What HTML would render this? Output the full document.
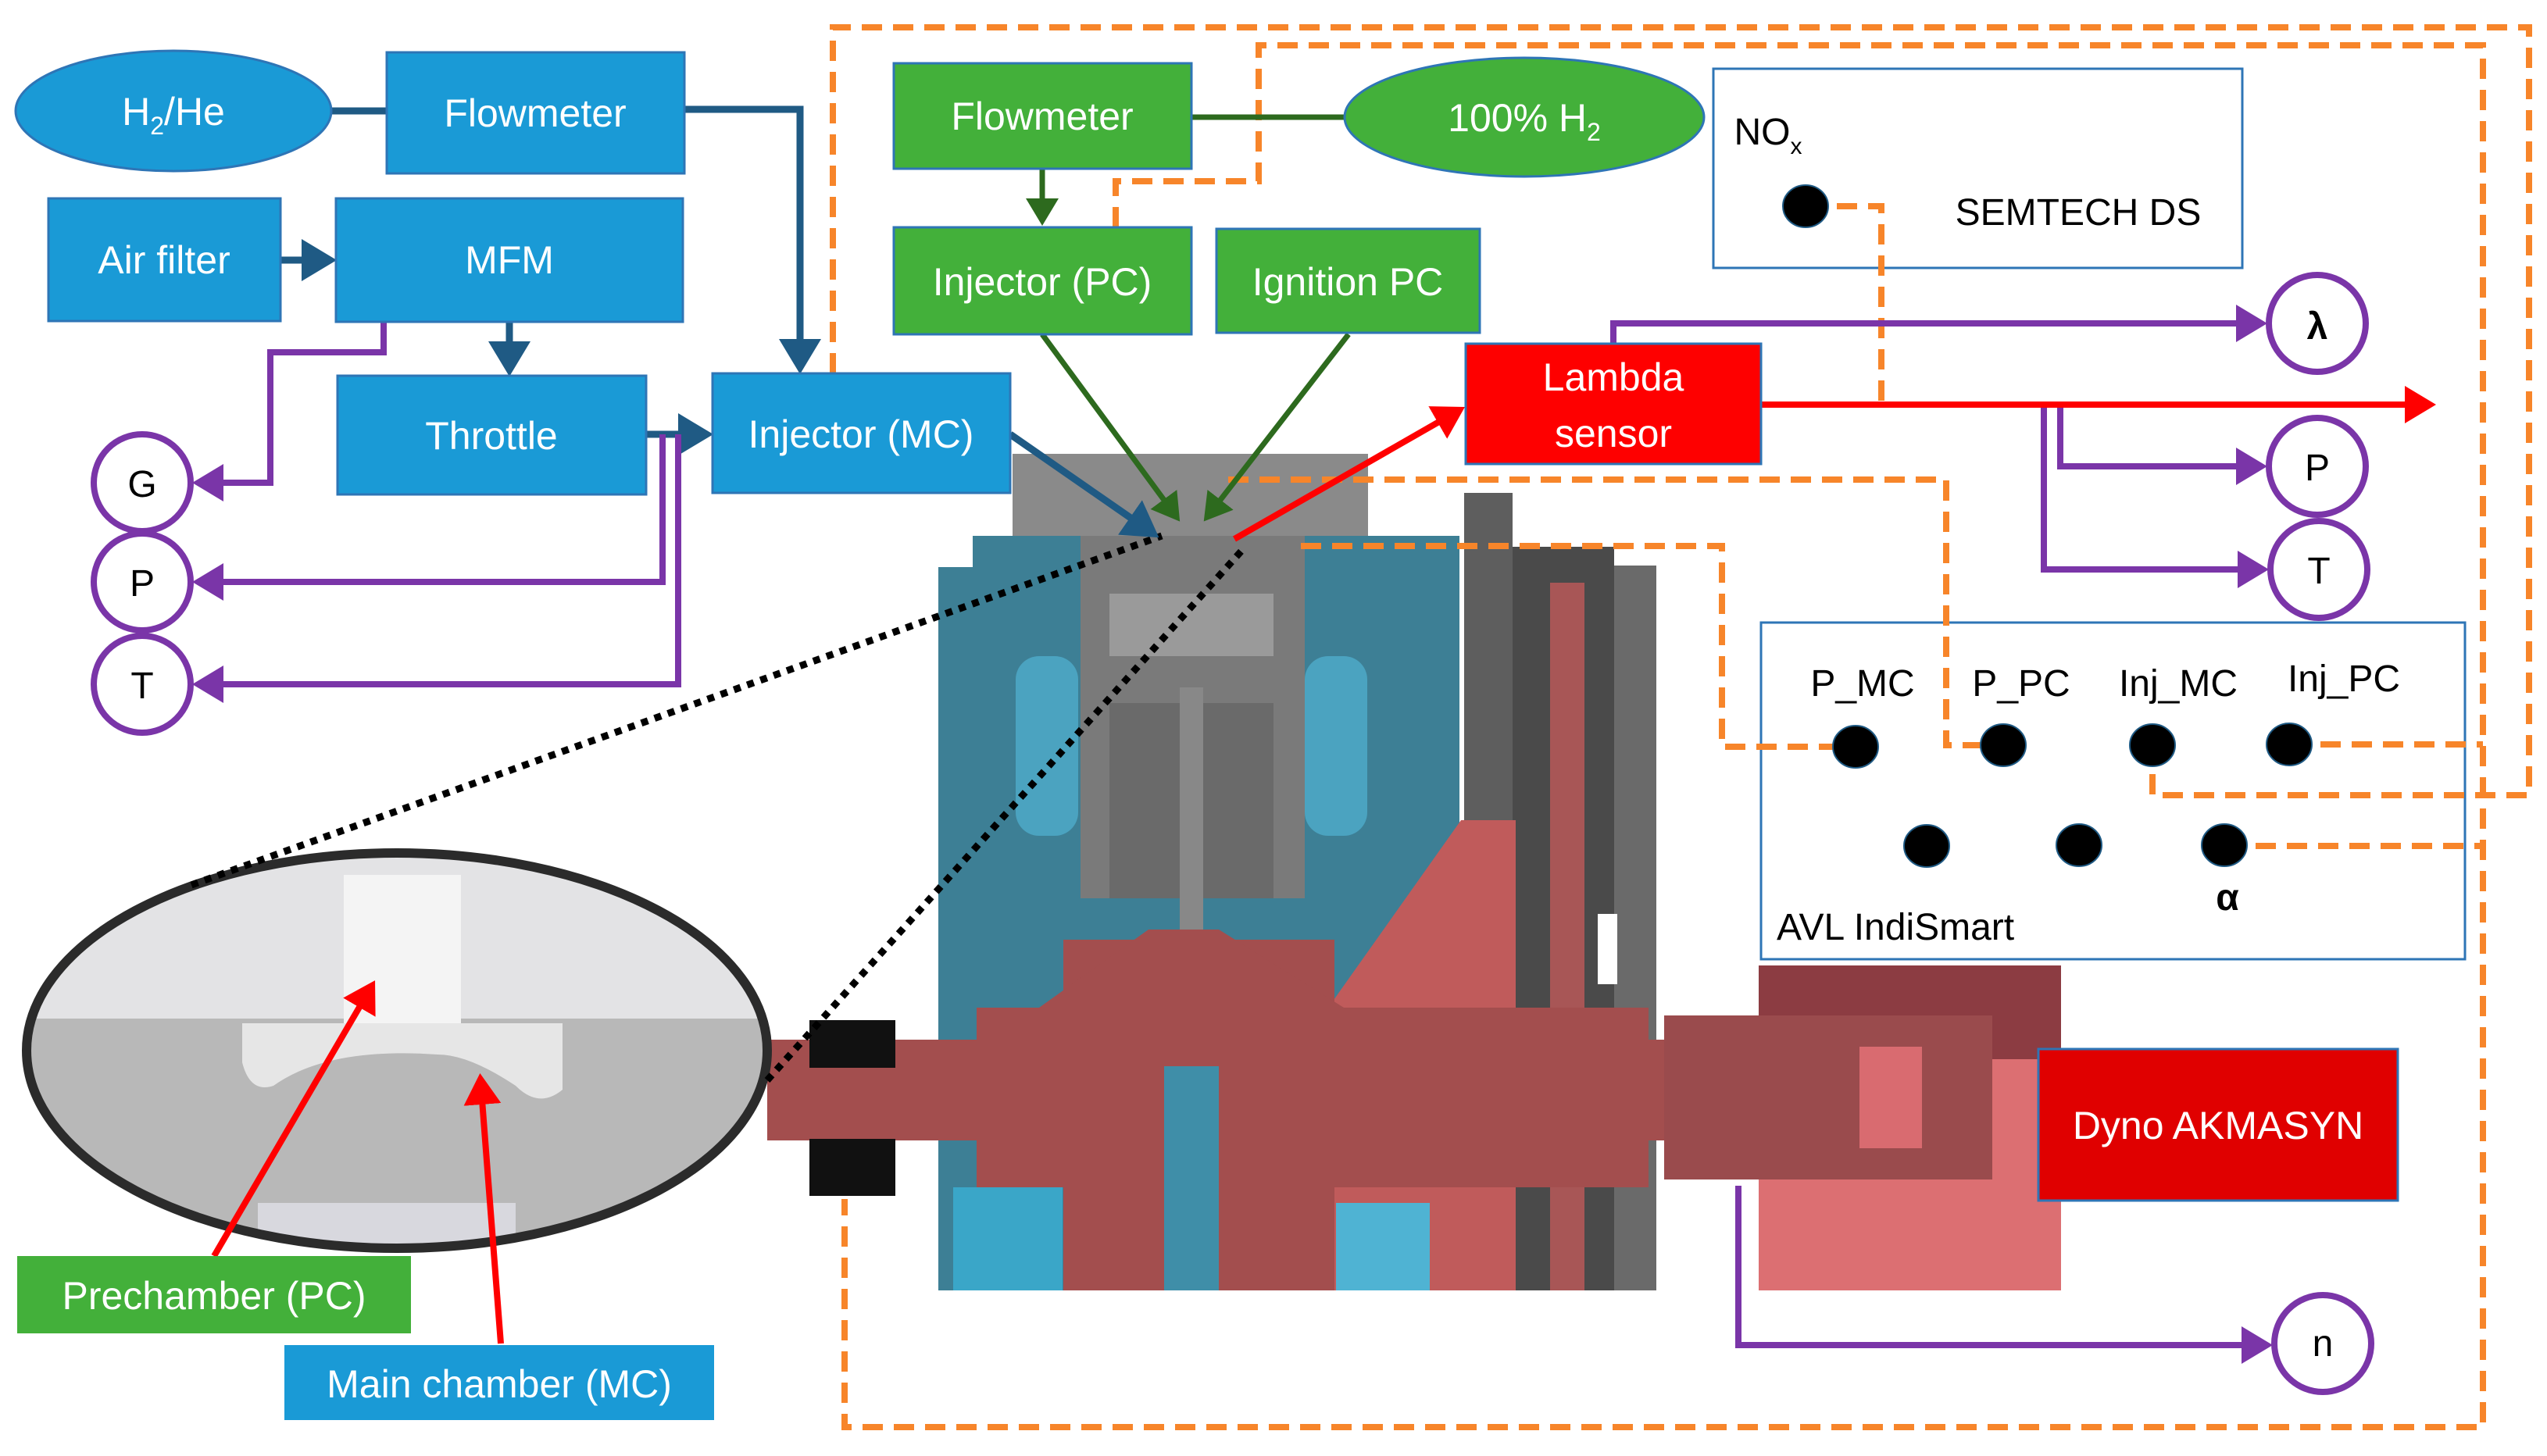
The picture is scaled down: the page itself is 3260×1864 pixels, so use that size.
<!DOCTYPE html>
<html><head><meta charset="utf-8"><style>
html,body{margin:0;padding:0;background:#fff;}
svg{display:block;}
text{font-family:"Liberation Sans",sans-serif;}
</style></head><body>
<svg width="3260" height="1864" viewBox="0 0 3260 1864" xmlns="http://www.w3.org/2000/svg">
<defs>
<marker id="ab" markerWidth="6" markerHeight="6" refX="4" refY="3" orient="auto" markerUnits="strokeWidth"><path d="M0,0 L5,3 L0,6 z" fill="#1f5a84"/></marker>
<marker id="ap" markerWidth="6" markerHeight="6" refX="4" refY="3" orient="auto" markerUnits="strokeWidth"><path d="M0,0 L5,3 L0,6 z" fill="#7a35a8"/></marker>
<marker id="ag" markerWidth="6" markerHeight="6" refX="4" refY="3" orient="auto" markerUnits="strokeWidth"><path d="M0,0 L5,3 L0,6 z" fill="#2d6a1e"/></marker>
<marker id="ar" markerWidth="6" markerHeight="6" refX="4" refY="3" orient="auto" markerUnits="strokeWidth"><path d="M0,0 L5,3 L0,6 z" fill="#ff0000"/></marker>
</defs>

<g>
<rect x="1296" y="581" width="455" height="110" fill="#8a8a8a"/>
<rect x="1201" y="686" width="667" height="966" fill="#3d7f95"/>
<rect x="1201" y="686" width="44" height="40" fill="#fff"/>
<rect x="1383" y="686" width="287" height="464" fill="#7a7a7a"/>
<rect x="1420" y="760" width="210" height="80" fill="#9a9a9a"/>
<rect x="1300" y="840" width="80" height="230" rx="30" fill="#4ba3c0"/>
<rect x="1670" y="840" width="80" height="230" rx="30" fill="#4ba3c0"/>
<rect x="1420" y="900" width="210" height="250" fill="#6a6a6a"/>
<rect x="1510" y="880" width="30" height="340" fill="#888"/>
<rect x="1874" y="631" width="62" height="1021" fill="#5e5e5e"/>
<rect x="1936" y="700" width="130" height="952" fill="#4a4a4a"/>
<rect x="1984" y="746" width="44" height="906" fill="#a85656"/>
<rect x="2066" y="724" width="54" height="928" fill="#6a6a6a"/>
<rect x="2045" y="1170" width="25" height="90" fill="#fff"/>
<polygon points="1700,1290 1870,1050 1940,1050 1940,1652 1700,1652" fill="#c05b5b"/>
<rect x="1361" y="1203" width="347" height="449" fill="#a34e4e"/>
<polygon points="1330,1290 1470,1190 1560,1190 1720,1290" fill="#a34e4e"/>
<rect x="982" y="1331" width="1150" height="129" fill="#a34e4e"/>
<rect x="1250" y="1290" width="860" height="230" fill="#a34e4e"/>
<rect x="1490" y="1365" width="70" height="287" fill="#3f8ea8"/>
<rect x="1220" y="1520" width="140" height="132" fill="#3aa6c8"/>
<rect x="1710" y="1540" width="120" height="112" fill="#4fb3d3"/>
<rect x="2251" y="1236" width="387" height="416" fill="#dc6f72"/>
<rect x="2251" y="1236" width="387" height="120" fill="#8c3c42"/>
<rect x="2130" y="1300" width="420" height="210" fill="#9a4b4d"/>
<rect x="2380" y="1340" width="80" height="130" fill="#d96b70"/>
<rect x="1036" y="1306" width="110" height="61" fill="#111"/>
<rect x="1036" y="1458" width="110" height="73" fill="#111"/>
</g>

<clipPath id="ec"><ellipse cx="508" cy="1345" rx="474" ry="253"/></clipPath>
<g clip-path="url(#ec)">
<rect x="30" y="1090" width="960" height="520" fill="#b8b8b8"/>
<rect x="30" y="1090" width="960" height="214" fill="#e3e3e5"/>
<rect x="440" y="1120" width="150" height="200" fill="#f4f4f4"/>
<path d="M310,1310 L720,1310 L720,1395 Q690,1420 660,1390 Q600,1350 560,1350 Q420,1340 350,1390 Q320,1400 310,1360 Z" fill="#e6e6e6"/>
<rect x="330" y="1540" width="330" height="60" fill="#d8d8de"/>
</g>
<ellipse cx="508" cy="1345" rx="474" ry="253" fill="none" stroke="#2b2b2b" stroke-width="12"/>

<line x1="245" y1="1133" x2="1487" y2="686" stroke="#000" stroke-width="9" stroke-dasharray="9 9"/>
<line x1="982" y1="1383" x2="1591" y2="703" stroke="#000" stroke-width="9" stroke-dasharray="9 9"/>

<rect x="2193" y="88" width="677" height="255" fill="none" stroke="#2e75b6" stroke-width="3"/>
<rect x="2254" y="797" width="901" height="431" fill="none" stroke="#2e75b6" stroke-width="3"/>

<g fill="none" stroke="#f7852a" stroke-width="8" stroke-dasharray="26 14">
<polyline points="1066,478 1066,35 3237,35 3237,1018 2755,1018 2755,956"/>
<polyline points="1428,291 1428,232 1611,232 1611,58 3178,58 3178,1827 1081,1827 1081,1535"/>
<polyline points="2311,264 2408,264 2408,518"/>
<polyline points="1572,614 2491,614 2491,954 2564,954"/>
<polyline points="1665,699 2204,699 2204,956 2375,956"/>
<polyline points="2930,953 3178,953"/>
<polyline points="2847,1083 3178,1083"/>
</g>

<g fill="none" stroke="#1f5a84" stroke-width="9">
<line x1="424" y1="142" x2="495" y2="142"/>
<polyline points="876,140 1024,140 1024,470" marker-end="url(#ab)"/>
<line x1="359" y1="333" x2="422" y2="333" marker-end="url(#ab)"/>
<line x1="652" y1="412" x2="652" y2="473" marker-end="url(#ab)"/>
<line x1="827" y1="556" x2="904" y2="556" marker-end="url(#ab)"/>
<line x1="1293" y1="556" x2="1476" y2="683" marker-end="url(#ab)"/>
</g>
<g fill="none" stroke="#7a35a8" stroke-width="8">
<polyline points="491,412 491,451 346,451 346,618 254,618" marker-end="url(#ap)"/>
<polyline points="848,556 848,745 254,745" marker-end="url(#ap)"/>
<polyline points="868,556 868,876 254,876" marker-end="url(#ap)"/>
<polyline points="2065,440 2065,414 2894,414" marker-end="url(#ap)"/>
<polyline points="2637,518 2637,597 2894,597" marker-end="url(#ap)"/>
<polyline points="2616,518 2616,729 2896,729" marker-end="url(#ap)"/>
<polyline points="2225,1518 2225,1722 2901,1722" marker-end="url(#ap)"/>
</g>
<g fill="none" stroke="#2d6a1e" stroke-width="7">
<line x1="1525" y1="150" x2="1721" y2="150"/>
<line x1="1334" y1="216" x2="1334" y2="282" marker-end="url(#ag)"/>
<line x1="1334" y1="428" x2="1506" y2="662" marker-end="url(#ag)"/>
<line x1="1726" y1="428" x2="1545" y2="662" marker-end="url(#ag)"/>
</g>
<g fill="none" stroke="#ff0000" stroke-width="8">
<line x1="1580" y1="690" x2="1868" y2="525" marker-end="url(#ar)"/>
<line x1="2254" y1="518" x2="3110" y2="518" marker-end="url(#ar)"/>
<line x1="274" y1="1608" x2="476" y2="1262" marker-end="url(#ar)"/>
<line x1="641" y1="1720" x2="615" y2="1382" marker-end="url(#ar)"/>
</g>

<g fill="#1a9ad6" stroke="#2e75b6" stroke-width="3">
<ellipse cx="222" cy="142" rx="202" ry="77"/>
<rect x="495" y="67" width="381" height="155"/>
<rect x="62" y="254" width="297" height="157"/>
<rect x="430" y="254" width="444" height="158"/>
<rect x="432" y="481" width="395" height="152"/>
<rect x="912" y="478" width="381" height="153"/>
<rect x="364" y="1722" width="550" height="96" stroke="none"/>
</g>
<g fill="#43b03a" stroke="#2e75b6" stroke-width="3">
<rect x="1144" y="81" width="381" height="135"/>
<rect x="1144" y="291" width="381" height="137"/>
<rect x="1557" y="293" width="337" height="133"/>
<ellipse cx="1951" cy="150" rx="230" ry="76"/>
<rect x="22" y="1608" width="504" height="99" stroke="none"/>
</g>
<rect x="1876" y="440" width="378" height="154" fill="#fe0000" stroke="#2e75b6" stroke-width="3"/>
<rect x="2609" y="1343" width="460" height="194" fill="#e00000" stroke="#2e75b6" stroke-width="3"/>

<g fill="#fff" stroke="#7a35a8" stroke-width="8">
<circle cx="182" cy="618" r="62"/>
<circle cx="182" cy="745" r="62"/>
<circle cx="182" cy="876" r="62"/>
<circle cx="2966" cy="414" r="62"/>
<circle cx="2966" cy="597" r="62"/>
<circle cx="2968" cy="729" r="62"/>
<circle cx="2973" cy="1720" r="62"/>
</g>
<g fill="#000" stroke="#1f5a84" stroke-width="2">
<ellipse cx="2311" cy="264" rx="29" ry="27"/>
<ellipse cx="2375" cy="956" rx="29" ry="27"/>
<ellipse cx="2564" cy="954" rx="29" ry="27"/>
<ellipse cx="2755" cy="954" rx="29" ry="27"/>
<ellipse cx="2930" cy="953" rx="29" ry="27"/>
<ellipse cx="2466" cy="1083" rx="29" ry="27"/>
<ellipse cx="2661" cy="1082" rx="29" ry="27"/>
<ellipse cx="2847" cy="1082" rx="29" ry="27"/>
</g>

<g fill="#fff" font-size="50" text-anchor="middle">
<text x="222" y="160">H<tspan font-size="32" dy="12">2</tspan><tspan dy="-12">/He</tspan></text>
<text x="685" y="162">Flowmeter</text>
<text x="210" y="350">Air filter</text>
<text x="652" y="350">MFM</text>
<text x="629" y="575">Throttle</text>
<text x="1102" y="573">Injector (MC)</text>
<text x="1334" y="166">Flowmeter</text>
<text x="1334" y="378">Injector (PC)</text>
<text x="1725" y="378">Ignition PC</text>
<text x="1951" y="168">100% H<tspan font-size="32" dy="12">2</tspan></text>
<text x="2065" y="500">Lambda</text>
<text x="2065" y="572">sensor</text>
<text x="2839" y="1458">Dyno AKMASYN</text>
<text x="274" y="1676">Prechamber (PC)</text>
<text x="639" y="1789">Main chamber (MC)</text>
</g>
<g fill="#000" font-size="48" text-anchor="middle">
<text x="182" y="636">G</text>
<text x="182" y="763">P</text>
<text x="182" y="894">T</text>
<text x="2966" y="434" font-weight="bold">λ</text>
<text x="2966" y="615">P</text>
<text x="2968" y="747">T</text>
<text x="2973" y="1736">n</text>
<text x="2263" y="185">NO<tspan font-size="30" dy="12">x</tspan></text>
<text x="2660" y="288">SEMTECH DS</text>
<text x="2384" y="891">P_MC</text>
<text x="2587" y="891">P_PC</text>
<text x="2788" y="891">Inj_MC</text>
<text x="3000" y="885">Inj_PC</text>
<text x="2851" y="1165" font-weight="bold">α</text>
<text x="2274" y="1203" text-anchor="start">AVL IndiSmart</text>
</g>
</svg>
</body></html>
